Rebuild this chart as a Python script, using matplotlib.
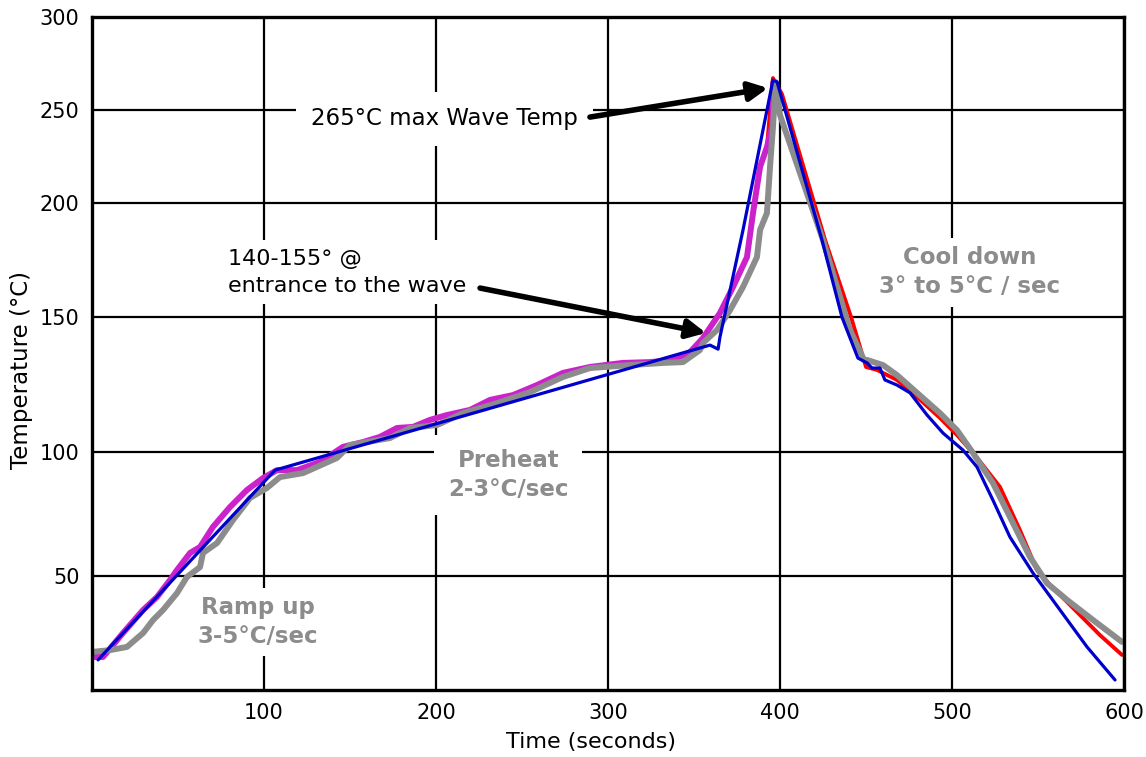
import numpy as np
import matplotlib
matplotlib.use("Agg")
import matplotlib.pyplot as plt

# y axis of the original is not evenly spaced: tick values and their height on the axis
Y_SCALE_VALUES = [0, 50, 100, 150, 200, 250, 300]
Y_SCALE_HEIGHTS = [0, 114, 238, 373, 487, 580, 673]

x_ticks = [100, 200, 300, 400, 500, 600]
y_ticks = [50, 100, 150, 200, 250, 300]

# magenta profile (rise only)
magenta_t = [0, 6.4, 18.0, 29.7, 37.8, 45.3, 49.4, 57.0, 62.8, 70.3, 80.2, 90.1, 99.4,
             107.6, 119.2, 132.6, 145.9, 157.6, 167.4, 177.3, 186.6, 196.5, 206.4, 219.8,
             231.4, 244.8, 258.7, 273.8, 289.5, 308.7, 324.4, 337.8, 347.7, 355.2, 365.1,
             372.7, 380.8, 384.3, 388.4, 392.4, 395.3, 395.9, 395.9]
magenta_T = [14.5, 14.5, 25.0, 35.1, 40.8, 48.2, 52.4, 59.3, 61.7, 69.8, 77.8, 84.7, 89.5,
             92.7, 92.7, 96.0, 101.9, 103.7, 105.6, 108.9, 109.3, 111.9, 113.7, 115.6,
             119.3, 121.1, 124.8, 129.3, 131.5, 133.0, 133.3, 134.1, 137.0, 142.2, 151.8,
             163.2, 176.3, 195.6, 219.4, 230.1, 240.9, 251.6, 264.5]

# gray profile
gray_t = [0, 10.5, 20.3, 29.7, 35.5, 41.3, 49.4, 55.2, 62.8, 64.5, 72.7, 82.0, 91.9, 101.7,
          109.3, 122.7, 130.8, 142.4, 150.0, 173.3, 184.9, 200.6, 215.7, 235.5, 254.7,
          273.8, 289.5, 312.8, 332.0, 343.6, 353.5, 355.2, 363.4, 371.0, 378.5, 386.6,
          388.4, 392.4, 394.2, 395.9, 397.5, 400.0, 425.0, 438.4, 440.7, 448.8, 450.6,
          459.9, 468.0, 479.7, 493.0, 502.9, 512.2, 523.8, 533.7, 545.3, 555.2, 566.9,
          582.0, 598.8]
gray_T = [16.7, 17.5, 18.9, 25.0, 30.7, 35.1, 42.5, 49.6, 53.6, 59.3, 63.3, 72.6, 81.5, 85.5,
          89.9, 91.5, 94.0, 97.6, 102.6, 105.2, 108.9, 110.0, 114.4, 118.1, 122.2,
          127.8, 131.1, 132.2, 133.0, 133.3, 137.8, 140.4, 145.2, 153.1, 163.2, 176.3,
          188.2, 195.6, 219.4, 240.9, 265.0, 247.3, 183.8, 150.0, 145.2, 134.1, 134.1,
          132.2, 128.5, 121.9, 114.4, 108.1, 99.6, 87.5, 73.8, 57.7, 46.9, 39.5,
          30.7, 21.1]

# blue profile
blue_t = [3.5, 106.4, 359.3, 364.0, 365.1, 378.5, 395.9, 398.3, 424.4, 436.0, 438.9, 445.3,
          450.6, 453.5, 458.1, 461.0, 468.0, 475.6, 485.5, 494.8, 506.4, 514.5, 523.8,
          533.7, 547.1, 562.8, 578.5, 594.8]
blue_T = [13.2, 92.7, 139.6, 138.1, 142.6, 188.2, 266.1, 265.1, 183.8, 150.0, 145.2, 134.8,
          133.0, 131.1, 131.1, 126.7, 124.8, 121.9, 113.7, 107.0, 100.7, 94.0, 80.6,
          65.7, 51.2, 35.1, 18.9, 4.4]

# red profile (peak and cool down)
red_t = [392.4, 395.9, 401.2, 426.2, 441.3, 450.0, 456.4, 468.0, 479.7, 493.0, 502.9, 513.3,
         527.9, 539.5, 549.4, 557.0, 571.5, 586.0, 598.8]
red_T = [230.1, 267.2, 258.4, 183.8, 150.0, 131.5, 130.4, 126.7, 120.4, 112.6, 106.3, 98.8,
         85.9, 68.5, 52.4, 46.1, 35.1, 24.1, 15.4]


def _fwd(v):
    return np.interp(v, Y_SCALE_VALUES, Y_SCALE_HEIGHTS)


def _inv(p):
    return np.interp(p, Y_SCALE_HEIGHTS, Y_SCALE_VALUES)


fig = plt.figure(figsize=(11.46, 7.57), dpi=100)
ax = fig.add_axes([0.0803, 0.0885, 0.9005, 0.889])
ax.set_yscale("function", functions=(_fwd, _inv))
ax.set_xlim(0, 600)
ax.set_ylim(0, 300)

ax.set_xticks(x_ticks)
ax.set_yticks(y_ticks)
ax.tick_params(axis="both", length=0, labelsize=15)
ax.tick_params(axis="x", pad=9)
ax.tick_params(axis="y", pad=9)
ax.grid(True, color="black", linewidth=1.6, zorder=1)
ax.set_axisbelow(True)
for sp in ax.spines.values():
    sp.set_linewidth(2.4)
    sp.set_zorder(6)

ax.set_xlabel("Time (seconds)", fontsize=16)
ax.xaxis.set_label_coords(0.484, -0.062)
ax.set_ylabel("Temperature (°C)", fontsize=16.5)
ax.yaxis.set_label_coords(-0.057, 0.475)

# curves
ax.plot(red_t, red_T, color="#ff0000", linewidth=2.8, zorder=3, solid_capstyle="round")
ax.plot(magenta_t, magenta_T, color="#cc22cc", linewidth=4.3, zorder=3.2, solid_capstyle="round")
ax.plot(gray_t, gray_T, color="#8c8c8c", linewidth=4.3, zorder=3.4, solid_capstyle="round",
        solid_joinstyle="round")
ax.plot(blue_t, blue_T, color="#0000cc", linewidth=2.3, zorder=3.6, solid_capstyle="round")

# text boxes (white background hides grid lines)
box = dict(facecolor="white", edgecolor="none")
ax.text(204.9, 245.2, "265°C max Wave Temp", fontsize=16.5, ha="center", va="center",
        zorder=2, bbox=dict(box, pad=11))
ax.text(79.0, 169.7, "140-155° @\nentrance to the wave", fontsize=16, ha="left", va="center",
        linespacing=1.45, zorder=2, bbox=dict(box, pad=6))
gray_txt = dict(fontsize=16.5, fontweight="bold", color="#8c8c8c", ha="center", va="center",
                linespacing=1.35, zorder=2)
ax.text(242.0, 90.7, "Preheat\n2-3°C/sec", bbox=dict(box, pad=10), **gray_txt)
ax.text(96.5, 29.8, "Ramp up\n3-5°C/sec", bbox=dict(box, pad=6), **gray_txt)
ax.text(510.5, 169.7, "Cool down\n3° to 5°C / sec", bbox=dict(box, pad=6), **gray_txt)

# arrows
arrow = dict(arrowstyle="-|>", color="black", linewidth=4, mutation_scale=28,
             shrinkA=0, shrinkB=0)
ax.annotate("", xy=(393.0, 261.8), xytext=(289.5, 246.2), arrowprops=arrow, zorder=5)
ax.annotate("", xy=(357.0, 144.1), xytext=(225.6, 162.7), arrowprops=arrow, zorder=5)

fig.savefig("out.png", dpi=100)
